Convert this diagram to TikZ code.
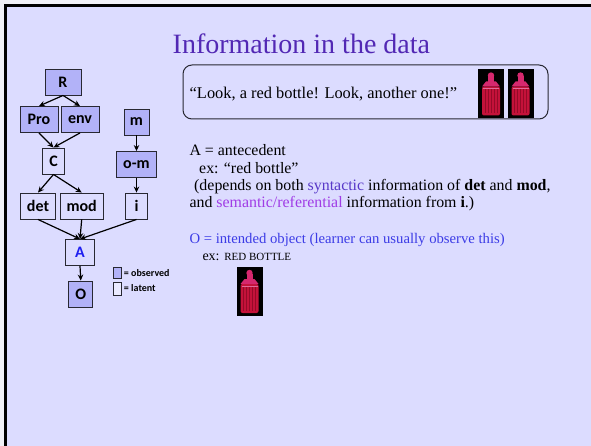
\documentclass[tikz,border=0pt]{standalone}
\usepackage{fontspec}
\setmainfont{Liberation Serif}
\newfontfamily\labelfont{Carlito}
\usetikzlibrary{arrows.meta}

\definecolor{pagebg}{RGB}{240,240,246}
\definecolor{slidebg}{RGB}{220,220,255}
\definecolor{obsfill}{RGB}{178,178,248}
\definecolor{nodeline}{RGB}{40,40,50}
\definecolor{titlecol}{RGB}{82,40,180}
\definecolor{objblue}{RGB}{60,60,230}
\definecolor{synblue}{RGB}{88,56,200}
\definecolor{sempurple}{RGB}{160,60,230}
\definecolor{antblue}{RGB}{30,30,240}
\definecolor{bottlered}{RGB}{196,18,58}
\definecolor{bottledark}{RGB}{150,10,40}
\definecolor{bottlepink}{RGB}{214,40,110}

\tikzset{
  var/.style={draw=nodeline, line width=0.9pt, inner sep=0pt,
    minimum height=26pt, font=\labelfont\bfseries\fontsize{16}{18}\selectfont},
  observed/.style={var, fill=obsfill},
  latent/.style={var, fill=slidebg},
  edge/.style={line width=1.2pt, -{Stealth[length=6pt,width=5.5pt]}},
  body/.style={anchor=base west, inner sep=0pt, font=\fontsize{15.9}{18}\selectfont},
  bottle/.pic={
    \fill[black] (-13,-24.5) rectangle (13,24.5);
    \fill[bottlered, rounded corners=2pt] (-9,-7) rectangle (9,22);
    \foreach \s in {-6,-3,0,3,6}
      \draw[bottledark, line width=0.6pt] (\s,-4) -- (\s,20);
    \fill[bottlepink] (-5,-12) -- (5,-12) -- (9,-7) -- (-9,-7) -- cycle;
    \fill[bottlepink] (-3,-17) rectangle (3,-11.5);
    \fill[bottlepink] (0,-18) circle (3.2pt);
    \draw[bottlepink!70!white, line width=0.5pt] (-8,-5) -- (8,-5);
  }
}

\begin{document}
\begin{tikzpicture}[x=1pt, y=-1pt]
  % page and slide frame
  \fill[pagebg] (0,0) rectangle (591,446);
  \useasboundingbox (0,0) rectangle (591,446);
  \fill[slidebg] (6,6) rectangle (591,446);
  \draw[black, line width=2.5pt] (5.5,446) -- (5.5,5.5) -- (591,5.5);

  % title
  \node[anchor=base west, inner sep=0pt, text=titlecol,
        font=\fontsize{28}{30}\selectfont] (title) at (172.5,53.3)
        {Information in the data};

  % quoted utterance with two bottles
  \node[draw=nodeline, line width=1pt, rounded corners=9pt,
        minimum width=365pt, minimum height=54pt] (quotebox) at (365.5,92) {};
  \node[body, font=\fontsize{16.4}{18}\selectfont] (quote) at (189.5,98.3)
        {“Look, a red bottle! Look, another one!”};
  \pic at (491,93.5) {bottle};
  \pic at (520.5,93.5) {bottle};

  % explanation of A
  \node[body] (aline1) at (189.3,155.7) {A = antecedent};
  \node[body] (aline2) at (199,173.3) {ex: “red bottle”};
  \node[body] (aline3) at (194,190.3)
        {(depends on both \textcolor{synblue}{syntactic} information of \textbf{det} and \textbf{mod},};
  \node[body] (aline4) at (189.3,207.5)
        {and \textcolor{sempurple}{semantic/referential} information from \textbf{i}.)};

  % explanation of O
  \node[body, text=objblue, font=\fontsize{14.7}{17}\selectfont] (oline1) at (189.3,243.3)
        {O = intended object (learner can usually observe this)};
  \node[body, font=\fontsize{14}{16}\selectfont] (oline2) at (202.3,260)
        {ex: {\fontsize{11}{12}\selectfont RED BOTTLE}};
  \pic at (249.5,291) {bottle};

  % graphical model
  \node[observed, minimum width=36pt] (R)   at (63,82)      {R};
  \node[observed, minimum width=38pt] (Pro) at (39,119.5)   {Pro};
  \node[observed, minimum width=38pt] (env) at (80,119.5)   {env};
  \node[observed, minimum width=25pt] (m)   at (136.5,122)  {m};
  \node[latent,   minimum width=21.5pt] (C) at (53.5,161)   {C};
  \node[observed, minimum width=40pt] (om)  at (136.5,164.5) {o-m};
  \node[latent,   minimum width=35pt] (det) at (38,206)     {det};
  \node[latent,   minimum width=43pt] (mod) at (81.7,206)   {mod};
  \node[latent,   minimum width=21.5pt] (i) at (136.5,206)  {i};
  \node[latent,   minimum width=29pt, text=antblue] (A) at (80,252.5) {A};
  \node[observed, minimum width=24pt] (O)   at (80.8,294)   {O};

  \draw[edge] (R.south) -- (Pro.north);
  \draw[edge] (R.south) -- (env.north);
  \draw[edge] (Pro.south) -- (C.north);
  \draw[edge] (env.south) -- (C.north);
  \draw[edge] (m.south) -- (om.north);
  \draw[edge] (C.south) -- (det.north);
  \draw[edge] (C.south) -- (mod.north);
  \draw[edge] (om.south) -- (i.north);
  \draw[edge] (det.south) -- (A.north);
  \draw[edge] (mod.south) -- (A.north);
  \draw[edge] (i.south) -- (A.north);
  \draw[edge] (A.south) -- (O.north);

  % legend
  \node[draw=nodeline, line width=0.7pt, fill=obsfill, inner sep=0pt,
        minimum width=8.5pt, minimum height=10.5pt] (keyobs) at (117.5,272.8) {};
  \node[draw=nodeline, line width=0.7pt, fill=white!40!slidebg, inner sep=0pt,
        minimum width=8.5pt, minimum height=13pt] (keylat) at (117.5,288.5) {};
  \node[anchor=west, inner sep=0pt, font=\labelfont\bfseries\fontsize{10}{12}\selectfont]
        (keyobstext) at (keyobs.east) {\,= observed};
  \node[anchor=west, inner sep=0pt, font=\labelfont\bfseries\fontsize{10}{12}\selectfont]
        (keylattext) at (keylat.east) {\,= latent};
\end{tikzpicture}
\end{document}
